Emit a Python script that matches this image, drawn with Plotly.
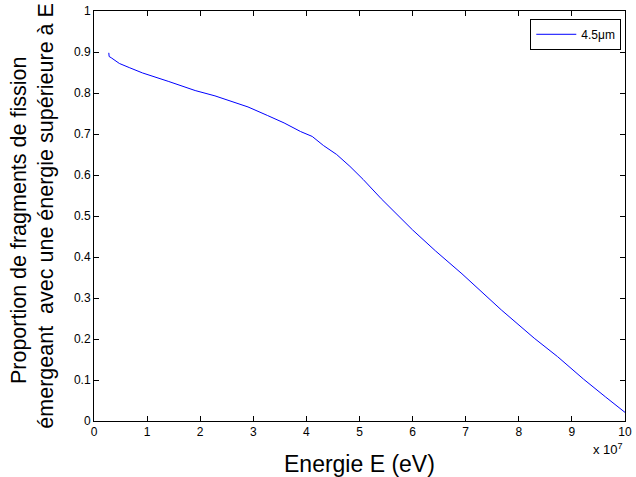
import plotly.graph_objects as go

# Energy (eV) and proportion of fission fragments emerging with energy > E
energy_eV = [0.279e7, 0.285e7, 0.324e7, 0.478e7, 0.664e7, 0.912e7, 1.409e7, 1.905e7,
             2.278e7, 2.711e7, 2.90e7, 3.27e7, 3.58e7, 3.89e7, 4.11e7, 4.32e7, 4.57e7,
             4.82e7, 5.07e7, 5.41e7, 6.0e7, 6.43e7, 6.93e7, 7.67e7, 8.29e7, 8.73e7,
             9.22e7, 9.63e7, 10.0e7]
proportion = [0.898, 0.889, 0.886, 0.872, 0.862, 0.849, 0.828, 0.806, 0.793, 0.774,
              0.766, 0.745, 0.727, 0.706, 0.694, 0.672, 0.650, 0.621, 0.589, 0.542,
              0.466, 0.415, 0.359, 0.271, 0.202, 0.157, 0.102, 0.059, 0.021]
series_name = "4.5μm"

x_tickvals = [i * 1e7 for i in range(11)]
x_ticktext = [str(i) for i in range(11)]
y_tickvals = [i / 10 for i in range(11)]
y_ticktext = ["0", "0.1", "0.2", "0.3", "0.4", "0.5", "0.6", "0.7", "0.8", "0.9", "1"]

FONT = "Liberation Sans, Arial, sans-serif"

fig = go.Figure()
fig.add_trace(go.Scatter(x=energy_eV, y=proportion, mode="lines", name=series_name,
                         line=dict(color="#0000ff", width=1)))

axis_common = dict(showline=True, linecolor="black", linewidth=1, mirror="ticks",
                   ticks="inside", ticklen=5, tickcolor="black", showgrid=False,
                   zeroline=False, ticklabeloverflow="allow",
                   tickfont=dict(family=FONT, size=12, color="black"))

fig.update_xaxes(range=[0, 1e8], tickvals=x_tickvals, ticktext=x_ticktext, **axis_common)
fig.update_yaxes(range=[0, 1], tickvals=y_tickvals, ticktext=y_ticktext, **axis_common)

fig.update_layout(
    width=636, height=477,
    margin=dict(l=94, r=4, t=11, b=56, pad=0),
    paper_bgcolor="white", plot_bgcolor="white",
    font=dict(family=FONT, color="black"),
    showlegend=True,
    legend=dict(x=0.993, y=0.981, xanchor="right", yanchor="top",
                bordercolor="black", borderwidth=1, bgcolor="white", itemwidth=40,
                font=dict(family=FONT, size=12, color="black")),
    annotations=[
        dict(text="Energie E (eV)", x=0.5, y=-0.105, xref="paper", yref="paper",
             xanchor="center", yanchor="middle", showarrow=False,
             font=dict(family=FONT, size=23, color="black")),
        dict(text="x 10<sup>7</sup>", x=1.0, y=-0.045, xref="paper", yref="paper",
             xanchor="right", yanchor="top", showarrow=False,
             font=dict(family=FONT, size=13, color="black")),
        dict(text="Proportion de fragments de fission",
             x=-0.1413, y=0.49, xref="paper", yref="paper", textangle=-90,
             xanchor="center", yanchor="middle", showarrow=False,
             font=dict(family=FONT, size=21.5, color="black")),
        dict(text="émergeant  avec une énergie supérieure à E",
             x=-0.0911, y=0.5, xref="paper", yref="paper", textangle=-90,
             xanchor="center", yanchor="middle", showarrow=False,
             font=dict(family=FONT, size=21.5, color="black")),
    ],
)

fig.write_html("out.html", config={"displayModeBar": False},
               post_script="document.body.style.margin='0';")
